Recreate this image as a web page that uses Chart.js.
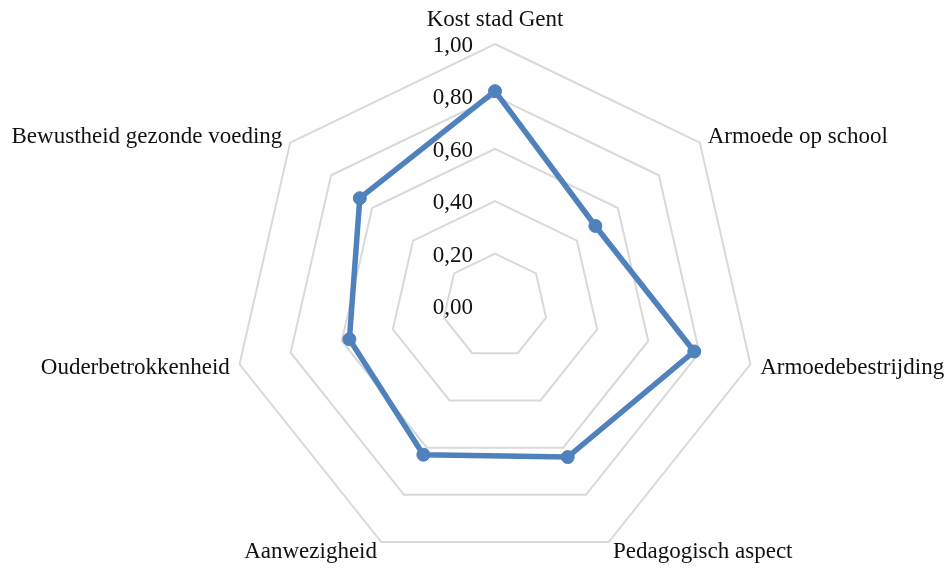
<!DOCTYPE html>
<html>
<head>
<meta charset="utf-8">
<script src="https://cdn.jsdelivr.net/npm/chart.js@4/dist/chart.umd.min.js"></script>
<style>
  body { margin: 0; background: #fff; }
  canvas { display: block; }
</style>
</head>
<body>
<canvas id="radarChart" width="951" height="569"></canvas>
<script>
const categories = [
    'Kost stad Gent',
    'Armoede op school',
    'Armoedebestrijding',
    'Pedagogisch aspect',
    'Aanwezigheid',
    'Ouderbetrokkenheid',
    'Bewustheid gezonde voeding'
];
const scores = [0.82, 0.49, 0.78, 0.64, 0.63, 0.57, 0.66];
const scaleMin = 0;
const scaleMax = 1;
const scaleStep = 0.2;

const FONT = '23px "Liberation Serif", "Times New Roman", serif';

// labels drawn by hand so they sit where Excel put them
const labelPlugin = {
    id: 'labels',
    afterDraw(chart) {
        const scale = chart.scales.r;
        const ctx = chart.ctx;
        ctx.save();
        ctx.font = FONT;
        ctx.fillStyle = '#111';
        ctx.textBaseline = 'middle';

        // tick labels, left of the vertical axis
        ctx.textAlign = 'right';
        scale.ticks.forEach(t => {
            const y = scale.yCenter - scale.getDistanceFromCenterForValue(t.value);
            ctx.fillText(t.value.toFixed(2).replace('.', ','), scale.xCenter - 22, y + 2);
        });

        // category labels
        const n = categories.length;
        categories.forEach((label, i) => {
            const p = scale.getPointPosition(i, scale.drawingArea + 10);
            let x = p.x, y = p.y + 1;
            if (i === 0) {
                ctx.textAlign = 'center';
                y -= 15;
            } else if (i <= Math.floor(n / 2)) {
                ctx.textAlign = 'left';
            } else {
                ctx.textAlign = 'right';
            }
            ctx.fillText(label, x, y);
        });
        ctx.restore();
    }
};

new Chart(document.getElementById('radarChart'), {
    type: 'radar',
    data: {
        labels: categories,
        datasets: [{
            label: 'Score',
            data: scores,
            borderColor: '#4f81bd',
            backgroundColor: '#4f81bd',
            borderWidth: 5.5,
            pointRadius: 6.5,
            pointBorderWidth: 1,
            pointBackgroundColor: '#4f81bd',
            pointBorderColor: '#4f81bd',
            fill: false,
            tension: 0
        }]
    },
    options: {
        responsive: false,
        animation: false,
        layout: { padding: { left: 39, right: 0, top: 44, bottom: 0 } },
        plugins: {
            legend: { display: false },
            tooltip: { enabled: false }
        },
        scales: {
            r: {
                min: scaleMin,
                max: scaleMax,
                ticks: { stepSize: scaleStep, display: false },
                pointLabels: { display: false },
                angleLines: { display: false },
                grid: { color: '#d9d9d9', lineWidth: 2 }
            }
        }
    },
    plugins: [labelPlugin]
});
</script>
</body>
</html>
